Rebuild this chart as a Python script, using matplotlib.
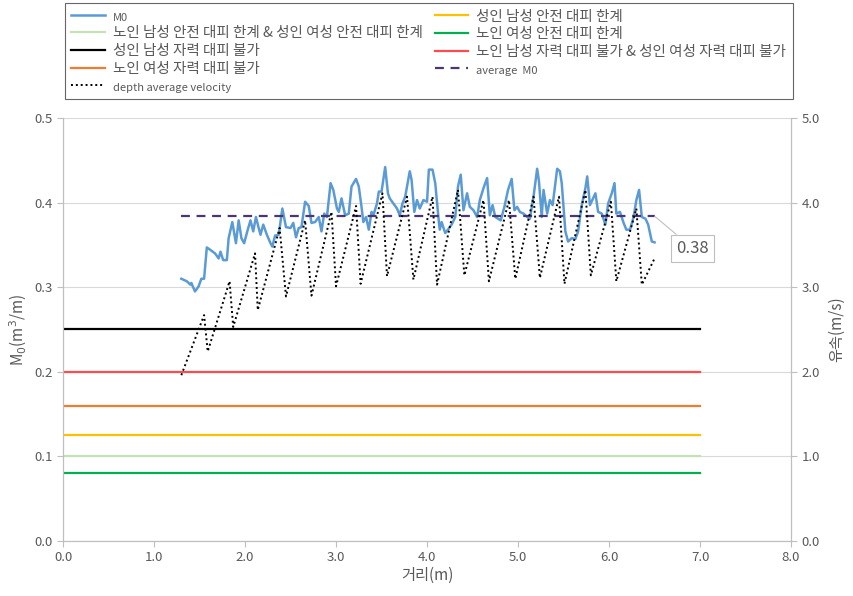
import numpy as np
import matplotlib
matplotlib.use("Agg")
import matplotlib.pyplot as plt
from matplotlib.ticker import FormatStrFormatter

plt.rcParams['font.family'] = ['Noto Sans CJK KR', 'DejaVu Sans']

# M0 along the channel (m, m3/m)
m0_x = [1.30, 1.36, 1.40, 1.41, 1.45, 1.49, 1.52, 1.55, 1.58, 1.62, 1.67, 1.71, 1.73, 1.76, 1.80,
        1.82, 1.86, 1.90, 1.93, 1.96, 1.99, 2.03, 2.06, 2.09, 2.12, 2.15, 2.17, 2.20, 2.24, 2.28,
        2.30, 2.33, 2.37, 2.41, 2.45, 2.50, 2.53, 2.56, 2.59, 2.62, 2.66, 2.70, 2.73, 2.77, 2.81,
        2.84, 2.87, 2.90, 2.94, 2.97, 3.01, 3.03, 3.06, 3.10, 3.14, 3.17, 3.22, 3.25, 3.28, 3.30,
        3.33, 3.36, 3.39, 3.41, 3.45, 3.47, 3.50, 3.54, 3.57, 3.59, 3.63, 3.67, 3.70, 3.73, 3.76,
        3.81, 3.83, 3.86, 3.89, 3.92, 3.96, 4.00, 4.02, 4.06, 4.09, 4.13, 4.14, 4.16, 4.20, 4.23,
        4.27, 4.31, 4.34, 4.37, 4.40, 4.44, 4.47, 4.51, 4.55, 4.58, 4.62, 4.66, 4.69, 4.72, 4.75,
        4.78, 4.81, 4.85, 4.89, 4.93, 4.96, 4.99, 5.02, 5.06, 5.10, 5.13, 5.17, 5.21, 5.23, 5.26,
        5.28, 5.32, 5.35, 5.38, 5.43, 5.46, 5.48, 5.52, 5.55, 5.59, 5.63, 5.66, 5.70, 5.74, 5.76,
        5.79, 5.85, 5.88, 5.92, 5.96, 5.99, 6.03, 6.06, 6.08, 6.12, 6.16, 6.19, 6.23, 6.27, 6.30,
        6.33, 6.36, 6.40, 6.43, 6.47, 6.50]
m0_y = [0.310, 0.307, 0.303, 0.305, 0.295, 0.301, 0.310, 0.310, 0.347, 0.344, 0.340, 0.334, 0.342, 0.332, 0.332,
        0.358, 0.377, 0.352, 0.379, 0.358, 0.352, 0.368, 0.379, 0.366, 0.383, 0.370, 0.362, 0.374, 0.362, 0.352,
        0.348, 0.361, 0.362, 0.393, 0.371, 0.370, 0.376, 0.359, 0.370, 0.371, 0.401, 0.396, 0.376, 0.377, 0.383,
        0.366, 0.387, 0.383, 0.423, 0.415, 0.393, 0.389, 0.405, 0.385, 0.387, 0.419, 0.428, 0.419, 0.395, 0.377,
        0.383, 0.368, 0.389, 0.385, 0.399, 0.413, 0.413, 0.442, 0.411, 0.405, 0.399, 0.393, 0.385, 0.399, 0.407,
        0.437, 0.427, 0.389, 0.403, 0.393, 0.403, 0.401, 0.439, 0.439, 0.423, 0.377, 0.368, 0.377, 0.364, 0.368,
        0.374, 0.383, 0.419, 0.433, 0.391, 0.411, 0.395, 0.391, 0.383, 0.403, 0.417, 0.429, 0.385, 0.397, 0.383,
        0.381, 0.379, 0.395, 0.415, 0.428, 0.391, 0.395, 0.389, 0.387, 0.383, 0.381, 0.407, 0.440, 0.425, 0.383,
        0.415, 0.387, 0.403, 0.397, 0.440, 0.437, 0.423, 0.366, 0.354, 0.358, 0.357, 0.366, 0.397, 0.417, 0.431,
        0.397, 0.411, 0.389, 0.387, 0.374, 0.399, 0.411, 0.423, 0.387, 0.389, 0.376, 0.368, 0.368, 0.383, 0.403,
        0.415, 0.383, 0.381, 0.374, 0.354, 0.353]

# depth average velocity (m/s)
vel_x = [1.30, 1.55, 1.59, 1.83, 1.87, 2.11, 2.14, 2.38, 2.45, 2.66, 2.73, 2.95, 3.00, 3.22, 3.27,
         3.51, 3.56, 3.78, 3.85, 4.06, 4.11, 4.34, 4.41, 4.62, 4.68, 4.90, 4.97, 5.17, 5.24, 5.45,
         5.51, 5.74, 5.80, 6.02, 6.08, 6.30, 6.36, 6.50]
vel_y = [1.96, 2.67, 2.24, 3.07, 2.53, 3.40, 2.73, 3.70, 2.89, 3.79, 2.90, 3.89, 3.01, 3.96, 3.04,
         4.11, 3.13, 4.07, 3.09, 4.07, 3.03, 4.15, 3.14, 4.03, 3.07, 4.03, 3.10, 4.07, 3.11, 4.07,
         3.04, 4.15, 3.14, 4.01, 3.07, 3.93, 3.03, 3.34]

avg_m0 = 0.384
avg_x = [1.30, 6.50]

# threshold lines
thr_x = [0.0, 7.0]
thr_labels = ['성인 남성 안전 대피 한계',
              '노인 남성 안전 대피 한계 & 성인 여성 안전 대피 한계',
              '노인 여성 안전 대피 한계',
              '성인 남성 자력 대피 불가',
              '노인 남성 자력 대피 불가 & 성인 여성 자력 대피 불가',
              '노인 여성 자력 대피 불가']
thr_values = [0.125, 0.10, 0.08, 0.25, 0.20, 0.16]
thr_colors = ['#FFC000', '#C5E0B4', '#00B050', '#000000', '#FF4B4B', '#ED7D31']

grey = '#595959'
fig = plt.figure(figsize=(8.54, 5.96), dpi=100)
ax = fig.add_axes([0.0738, 0.0923, 0.8525, 0.7097])
ax2 = ax.twinx()

h = {}
h['m0'], = ax.plot(m0_x, m0_y, color='#5B9BD5', lw=1.8, label='M0')
for lab, val, col in zip(thr_labels, thr_values, thr_colors):
    h[lab], = ax.plot(thr_x, [val, val], color=col, lw=1.6, label=lab)
h['avg'], = ax.plot(avg_x, [avg_m0, avg_m0], color='#4B3770', lw=1.6, ls=(0, (4, 3)), label='average  M0')
h['vel'], = ax2.plot(vel_x, vel_y, color='black', lw=1.4, ls=(0, (1, 1.5)), label='depth average velocity')

ax.annotate('%.2f' % avg_m0, xy=(6.50, avg_m0), xytext=(6.92, 0.346),
            ha='center', va='center', fontsize=12, color=grey,
            bbox=dict(boxstyle='square,pad=0.3', fc='white', ec='#BFBFBF', lw=0.8),
            arrowprops=dict(arrowstyle='-', color='#BFBFBF', lw=0.8, shrinkA=0, shrinkB=0))

ax.set_xlim(0, 8)
ax.set_ylim(0, 0.5)
ax2.set_ylim(0, 5)
ax.set_xticks(np.arange(0, 8.01, 1.0))
ax.set_yticks(np.arange(0, 0.501, 0.1))
ax2.set_yticks(np.arange(0, 5.01, 1.0))
ax.xaxis.set_major_formatter(FormatStrFormatter('%.1f'))
ax.yaxis.set_major_formatter(FormatStrFormatter('%.1f'))
ax2.yaxis.set_major_formatter(FormatStrFormatter('%.1f'))
ax.grid(axis='y', color='#D9D9D9', lw=0.8)
ax.set_axisbelow(True)

for a in (ax, ax2):
    for s in a.spines.values():
        s.set_color('#BFBFBF')
    a.spines['top'].set_visible(False)
    a.tick_params(colors='#BFBFBF', labelcolor=grey, labelsize=9.5, length=4, width=0.8)

ax.set_xlabel('거리(m)', fontsize=11, color=grey, labelpad=2)
ax.set_ylabel('M$_0$(m$^3$/m)', fontsize=11, color=grey, labelpad=4)
ax2.set_ylabel('유속(m/s)', fontsize=11, color=grey, labelpad=6)

order = [h['m0'], h[thr_labels[1]], h[thr_labels[3]], h[thr_labels[5]], h['vel'],
         h[thr_labels[0]], h[thr_labels[2]], h[thr_labels[4]], h['avg']]
leg = fig.legend(handles=order, ncol=2, loc='upper left', bbox_to_anchor=(0.076, 0.995),
                 borderaxespad=0, fontsize=10.5, frameon=True, fancybox=False, edgecolor='#404040',
                 handlelength=2.3, handletextpad=0.55, columnspacing=0.8,
                 labelspacing=0.27, borderpad=0.45)
leg.get_frame().set_linewidth(0.8)
for t in leg.get_texts():
    t.set_color(grey)
    if t.get_text() in ('M0', 'average  M0', 'depth average velocity'):
        t.set_fontsize(8)

fig.savefig('out.png', dpi=100)
